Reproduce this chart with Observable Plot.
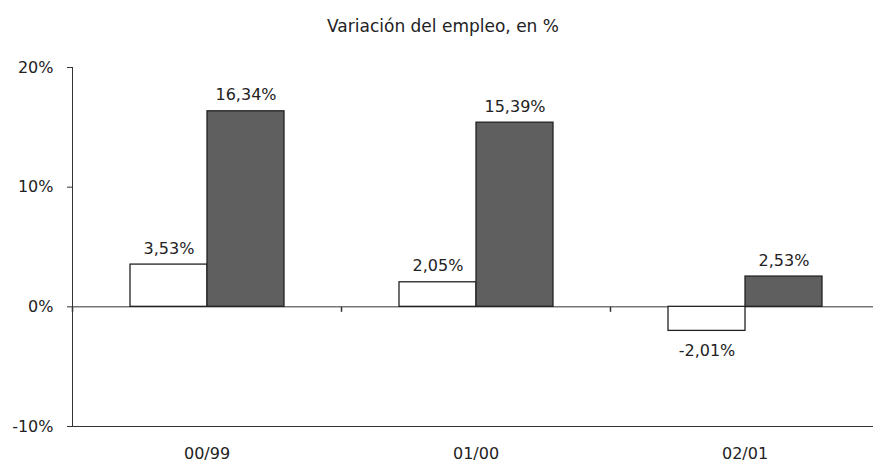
<!DOCTYPE html>
<html><head><meta charset="utf-8">
<script src="https://cdn.jsdelivr.net/npm/d3@7"></script>
<script src="https://cdn.jsdelivr.net/npm/@observablehq/plot@0.6"></script>
<style>
body{margin:0;background:#fff;font-family:"DejaVu Sans",sans-serif;}
#title{height:40px;box-sizing:border-box;padding-top:17px;padding-left:13px;width:873px;text-align:center;font-size:17px;color:#222;line-height:18px;}
</style></head><body>
<div id="title">Variación del empleo, en %</div>
<div id="chart"></div>
<script>
const periods = ["00/99", "01/00", "02/01"];
const series = ["A", "B"];
const valuesA = [3.53, 2.05, -2.01];
const valuesB = [16.34, 15.39, 2.53];
const yTicks = [-10, 0, 10, 20];

const data = periods.flatMap((p, i) => [
  {period: p, series: series[0], value: valuesA[i]},
  {period: p, series: series[1], value: valuesB[i]}
]);
const fmt = v => v.toFixed(2).replace(".", ",") + "%";
const tickDown = {draw(ctx) { ctx.moveTo(0, 0); ctx.lineTo(0, 5); }};

const chart = Plot.plot({
  width: 873, height: 423,
  marginLeft: 72, marginRight: -6, marginTop: 27, marginBottom: 37,
  style: {fontFamily: "DejaVu Sans", fontSize: "16px", color: "#222", background: "#fff"},
  fx: {domain: periods, padding: 0, label: null},
  x: {domain: series, axis: null, paddingInner: 0, paddingOuter: 0.74},
  y: {domain: [-10, 20], label: null},
  color: {domain: series, range: ["#ffffff", "#5f5f5f"]},
  marks: [
    Plot.axisY({ticks: yTicks, tickFormat: d => d + "%", tickSize: 5, tickPadding: 14, label: null, stroke: "#333"}),
    Plot.axisFx({anchor: "bottom", tickSize: 0, tickPadding: 21, label: null}),
    Plot.frame({anchor: "left", facetAnchor: "left", stroke: "#333"}),
    Plot.ruleY([-10], {stroke: "#333"}),
    Plot.ruleY([0], {stroke: "#333"}),
    Plot.dot([0], {y: d => d, frameAnchor: "left", symbol: tickDown, fill: "none", stroke: "#333"}),
    Plot.barY(data, {fx: "period", x: "series", y: "value", fill: "series", stroke: "#222", strokeWidth: 1.3}),
    Plot.text(data.filter(d => d.value >= 0), {fx: "period", x: "series", y: "value", text: d => fmt(d.value), lineAnchor: "bottom", dy: -11, fill: "#222"}),
    Plot.text(data.filter(d => d.value < 0), {fx: "period", x: "series", y: "value", text: d => fmt(d.value), lineAnchor: "top", dy: 14, fill: "#222"})
  ]
});
document.getElementById("chart").appendChild(chart);
</script>
</body></html>
